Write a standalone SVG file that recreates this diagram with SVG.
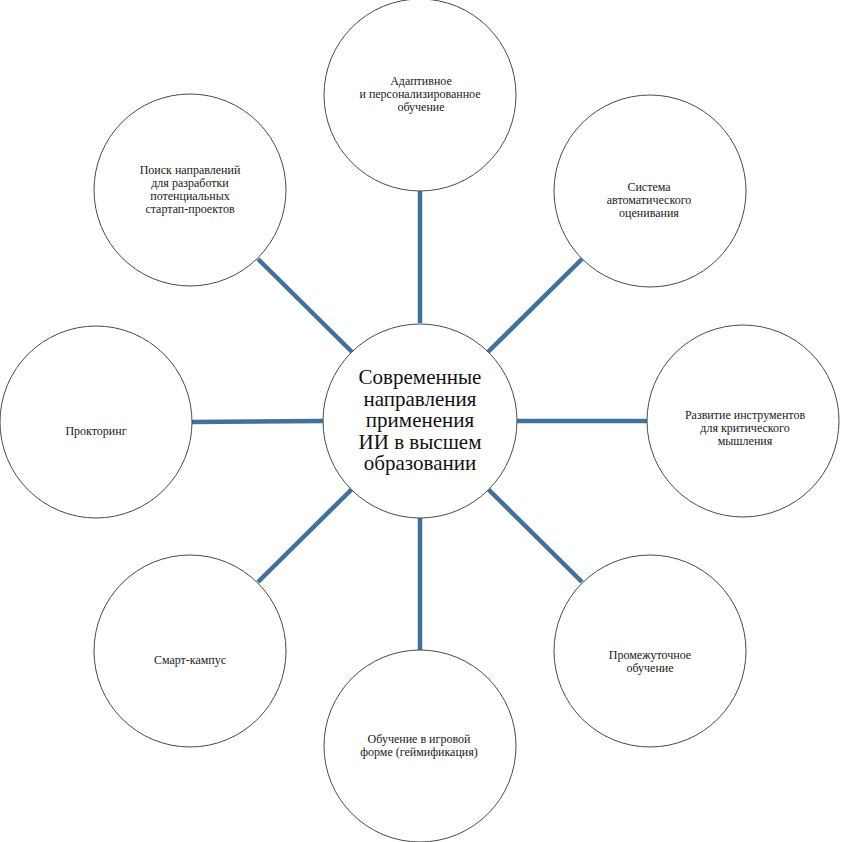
<svg xmlns="http://www.w3.org/2000/svg" width="841" height="842" viewBox="0 0 841 842">
<style>
.node circle{fill:#ffffff;stroke:#4a4a4a;stroke-width:1}
.t{font-family:"Liberation Serif","Times New Roman","DejaVu Serif",serif;font-size:12px;fill:#1a1a1a;text-anchor:middle}
.c{font-family:"Liberation Serif","Times New Roman","DejaVu Serif",serif;font-size:21px;fill:#111111;text-anchor:middle}
.links line{stroke:#41709c;stroke-width:4.5;stroke-linecap:butt}
</style>
<rect width="841" height="842" fill="#ffffff"/>
<g id="connectors" class="links">
<line x1="420" y1="191" x2="420" y2="323"/>
<line x1="582" y1="259" x2="488" y2="352"/>
<line x1="517" y1="421" x2="647" y2="421"/>
<line x1="488" y1="489" x2="582" y2="582"/>
<line x1="420" y1="518" x2="420" y2="650"/>
<line x1="352" y1="489" x2="258" y2="582"/>
<line x1="192" y1="422" x2="323" y2="421"/>
<line x1="258" y1="259" x2="352" y2="352"/>
</g>
<g id="center" class="node">
<circle cx="420" cy="421" r="97"/>
<text class="c" font-family="Liberation Serif, Times New Roman, DejaVu Serif, serif"><tspan x="420" y="384">Современные</tspan><tspan x="420" y="405.5">направления</tspan><tspan x="420" y="427">применения</tspan><tspan x="420" y="448.5">ИИ в высшем</tspan><tspan x="420" y="470">образовании</tspan></text>
</g>
<g id="n-adaptive" class="node">
<circle cx="420" cy="95" r="96"/>
<text class="t"><tspan x="421" y="85">Адаптивное</tspan><tspan x="420" y="98">и персонализированное</tspan><tspan x="421" y="111">обучение</tspan></text>
</g>
<g id="n-assessment" class="node">
<circle cx="650" cy="191" r="96"/>
<text class="t"><tspan x="649" y="191">Система</tspan><tspan x="649" y="204">автоматического</tspan><tspan x="649" y="217">оценивания</tspan></text>
</g>
<g id="n-critical" class="node">
<circle cx="743" cy="421" r="96"/>
<text class="t"><tspan x="745" y="419">Развитие инструментов</tspan><tspan x="745" y="432">для критического</tspan><tspan x="745" y="445">мышления</tspan></text>
</g>
<g id="n-intermediate" class="node">
<circle cx="650" cy="651" r="96"/>
<text class="t"><tspan x="650" y="659">Промежуточное</tspan><tspan x="650" y="672">обучение</tspan></text>
</g>
<g id="n-gamification" class="node">
<circle cx="420" cy="746" r="96"/>
<text class="t"><tspan x="419" y="743">Обучение в игровой</tspan><tspan x="419" y="756">форме (геймификация)</tspan></text>
</g>
<g id="n-smartcampus" class="node">
<circle cx="190" cy="651" r="96"/>
<text class="t"><tspan x="190" y="664">Смарт-кампус</tspan></text>
</g>
<g id="n-proctoring" class="node">
<circle cx="96" cy="422" r="96"/>
<text class="t"><tspan x="96" y="435">Прокторинг</tspan></text>
</g>
<g id="n-startups" class="node">
<circle cx="190" cy="190" r="96"/>
<text class="t"><tspan x="190" y="174">Поиск направлений</tspan><tspan x="190" y="187">для разработки</tspan><tspan x="190" y="200">потенциальных</tspan><tspan x="190" y="213">стартап-проектов</tspan></text>
</g>
</svg>
